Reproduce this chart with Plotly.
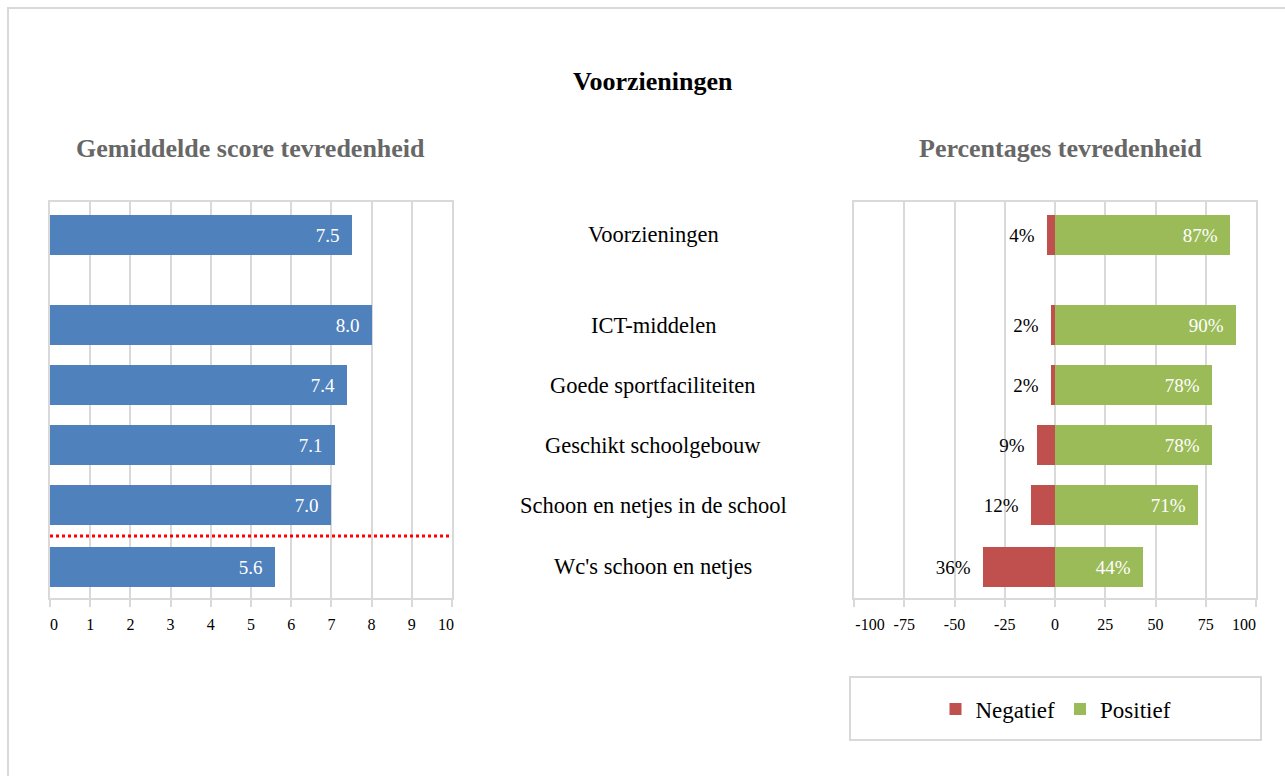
import plotly.graph_objects as go

# ---------------- data ----------------
categories = ["Voorzieningen", "ICT-middelen", "Goede sportfaciliteiten",
              "Geschikt schoolgebouw", "Schoon en netjes in de school",
              "Wc's schoon en netjes"]
scores = [7.5, 8.0, 7.4, 7.1, 7.0, 5.6]
negatief = [4, 2, 2, 9, 12, 36]
positief = [87, 90, 78, 78, 71, 44]
score_ticks = list(range(0, 11))
pct_ticks = [-100, -75, -50, -25, 0, 25, 50, 75, 100]

# row positions (layout): first row separated by a gap
row_pos = [0, 1.5, 2.5, 3.5, 4.5, 5.53]

W, H = 1285, 776
def px(x):
    return x / W
def py(y):
    return 1 - y / H

FONT = "Liberation Serif"
BLUE = "#4F81BD"
RED = "#C0504D"
GREEN = "#9BBB59"
GRID = "#D9D9D9"
NB = "\u00a0"
PAD = NB * 2


def edge_labels(ticks, lead, trail):
    """Tick labels; first/last ones kept inside the plot like the original."""
    out = [str(v) for v in ticks]
    out[0] = NB * lead + out[0]
    out[-1] = out[-1] + NB * trail
    return out


fig = go.Figure()

fig.add_trace(go.Bar(
    y=row_pos, x=scores, orientation="h", width=0.667,
    marker=dict(color=BLUE, line=dict(width=0)),
    text=[f"{v:.1f}{PAD}" for v in scores], textposition="inside",
    insidetextanchor="end",
    textfont=dict(family=FONT, size=19, color="white"),
    xaxis="x", yaxis="y", showlegend=False, hoverinfo="skip",
))

fig.add_trace(go.Bar(
    name="Negatief", y=row_pos, x=[-v for v in negatief], base=0,
    orientation="h", width=0.667,
    marker=dict(color=RED, line=dict(width=0)),
    text=[f"{v}%{PAD}" for v in negatief], textposition="outside",
    textfont=dict(family=FONT, size=19, color="black"),
    cliponaxis=False,
    xaxis="x2", yaxis="y2", hoverinfo="skip",
))

fig.add_trace(go.Bar(
    name="Positief", y=row_pos, x=positief, base=0,
    orientation="h", width=0.667,
    marker=dict(color=GREEN, line=dict(width=0)),
    text=[f"{v}%{PAD}" for v in positief], textposition="inside",
    insidetextanchor="end",
    textfont=dict(family=FONT, size=19, color="white"),
    xaxis="x2", yaxis="y2", hoverinfo="skip",
))

yrange = [6.05, -0.55]
ydom = [py(598), py(202)]

axis_common = dict(
    showgrid=True, gridcolor=GRID, gridwidth=2, zeroline=False,
    showline=True, linecolor=GRID, linewidth=2, mirror=True,
    ticks="outside", ticklen=7, tickcolor=GRID, tickwidth=2,
    tickfont=dict(family=FONT, size=16, color="black"),
    ticklabelstandoff=4, fixedrange=True, automargin=False,
)
yaxis_common = dict(
    range=yrange, autorange=False, showgrid=False, zeroline=False,
    showticklabels=False, showline=True, linecolor=GRID, linewidth=2,
    mirror=True, ticks="", domain=ydom, fixedrange=True, automargin=False,
)

fig.update_layout(
    width=W, height=H, autosize=False,
    margin=dict(l=0, r=0, t=0, b=0, pad=0, autoexpand=False),
    paper_bgcolor="white", plot_bgcolor="white",
    barmode="overlay", bargap=0,
    font=dict(family=FONT, color="black"),
    xaxis=dict(domain=[px(50), px(452)], range=[0, 10], tickvals=score_ticks,
               ticktext=edge_labels(score_ticks, 2, 3),
               anchor="y", **axis_common),
    yaxis=dict(anchor="x", **yaxis_common),
    xaxis2=dict(domain=[px(854), px(1256)], range=[-100, 100],
                tickvals=pct_ticks, ticktext=edge_labels(pct_ticks, 8, 6),
                anchor="y2", **axis_common),
    yaxis2=dict(anchor="x2", **yaxis_common),
    legend=dict(orientation="h", x=px(1056), xanchor="center",
                y=py(709), yanchor="middle",
                font=dict(family=FONT, size=23, color="black"),
                bgcolor="rgba(0,0,0,0)", borderwidth=0,
                itemsizing="constant", traceorder="normal"),
    showlegend=True,
)

annotations = [
    dict(text="<b>Voorzieningen</b>", x=px(653), y=py(82), xref="paper",
         yref="paper", showarrow=False, xanchor="center", yanchor="middle",
         font=dict(family=FONT, size=26, color="black")),
    dict(text="<b>Gemiddelde score tevredenheid</b>", x=px(250), y=py(148),
         xref="paper", yref="paper", showarrow=False, xanchor="center",
         yanchor="middle", font=dict(family=FONT, size=26, color="#676767")),
    dict(text="<b>Percentages tevredenheid</b>", x=px(1060), y=py(148),
         xref="paper", yref="paper", showarrow=False, xanchor="center",
         yanchor="middle", font=dict(family=FONT, size=26, color="#676767")),
]
for cat, r in zip(categories, row_pos):
    annotations.append(dict(text=cat, x=px(653), y=r, xref="paper", yref="y",
                            showarrow=False, xanchor="center", yanchor="middle",
                            font=dict(family=FONT, size=22.5, color="black")))
fig.update_layout(annotations=annotations)

sep_y = (row_pos[4] + row_pos[5]) / 2
fig.update_layout(shapes=[
    # outer frame
    dict(type="rect", xref="paper", yref="paper", x0=px(8), x1=1.05,
         y0=-0.05, y1=py(8), line=dict(color=GRID, width=2)),
    # legend frame
    dict(type="rect", xref="paper", yref="paper", x0=px(850), x1=px(1261),
         y0=py(740), y1=py(677), line=dict(color=GRID, width=2)),
    # red dotted separator
    dict(type="line", xref="x", yref="y", x0=0, x1=10.1, y0=sep_y, y1=sep_y,
         line=dict(color="#FF0000", width=3, dash="dot")),
])

fig.write_html("out.html", config={"displayModeBar": False},
               post_script="document.body.style.margin='0';")
